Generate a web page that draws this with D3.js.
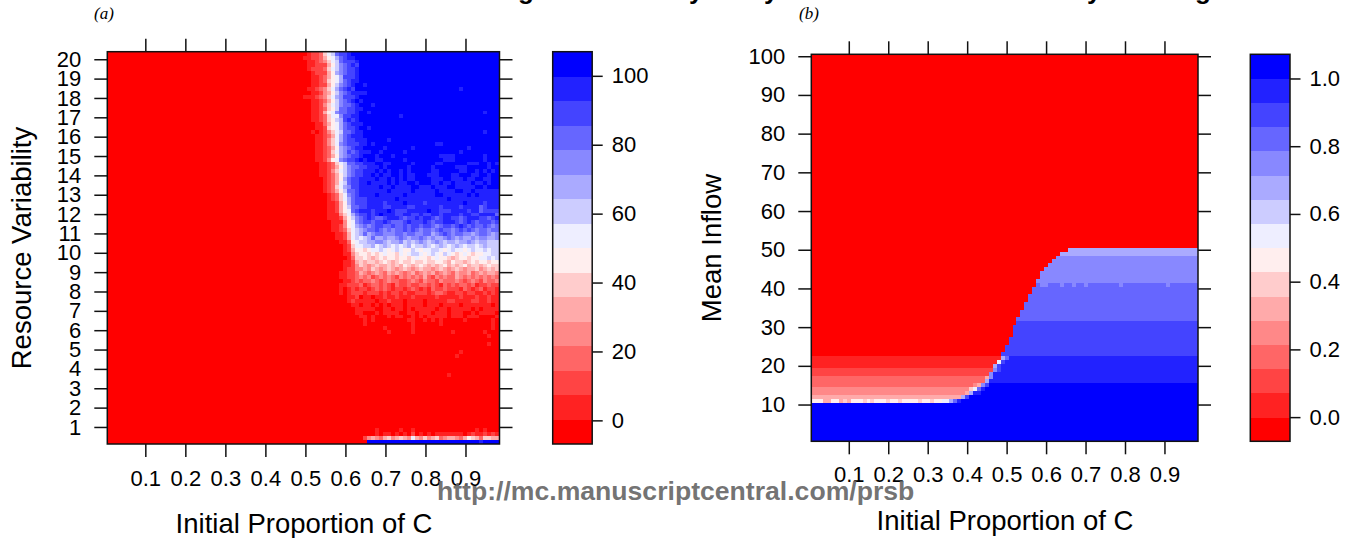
<!DOCTYPE html>
<html>
<head>
<meta charset="utf-8">
<script src="https://d3js.org/d3.v7.min.js"></script>
<style>
  html, body { margin: 0; background: #fff; }
  svg { display: block; }
  text { font-family: "Liberation Sans", Arial, sans-serif; fill: #000; }
</style>
</head>
<body>
<script>
// the 16 colour levels of both keys, red (0) to blue (f)
const palette = ['#ff0000', '#ff2222', '#ff4444', '#ff6666', '#ff8888', '#ffaaaa', '#ffcccc', '#ffeeee',
  '#eeeeff', '#ccccff', '#aaaaff', '#8888ff', '#6666ff', '#4444ff', '#2222ff', '#0000ff'];

const xTicks = [0.1, 0.2, 0.3, 0.4, 0.5, 0.6, 0.7, 0.8, 0.9];
const yTicksA = [1, 2, 3, 4, 5, 6, 7, 8, 9, 10, 11, 12, 13, 14, 15, 16, 17, 18, 19, 20];
const yTicksB = [10, 20, 30, 40, 50, 60, 70, 80, 90, 100];
const keyTicksA = [0, 20, 40, 60, 80, 100];
const keyTicksB = [0, 0.2, 0.4, 0.6, 0.8, 1];

// cell levels, one string per row, top row first
// "c*n" repeats a level, other tokens are literal, the last level runs on to the right edge
const rowsA = [
  '0*49 01223689cddef',
  '0*49 11223578acdeef',
  '0*49 011234689cdddef',
  '0*49 011222579bcdedf',
  '0*49 012223689bcddef',
  '0*49 00122257abcddef',
  '0*49 001123578adddef',
  '0*49 001123678acdeef',
  '0*49 001122579bcdef',
  '0*49 01123468acdedf',
  '0*49 001124579bcdeeeef',
  '0*49 11123468abdddef',
  '0*49 001123579bcdefef',
  '0*49 001124689bccdef',
  '0*49 001123679ccddeef',
  '0*49 00112578bccddef',
  '0*49 001123688bddeef',
  '0*49 001123679adedef',
  '0*49 000113578acdeeef',
  '0*49 000112678acddef',
  '0*49 001012468 9ccdeef',
  '0*50 00112358acdeeef',
  '0*50 00112468acddeeefffffe f',
  '0*50 00112468bcdddeefefffffffffffffffeef',
  '0*50 00112357abcdeefffffeffffffefffffffffffffef',
  '0*50 00112368abdcdeeeffefffffefffffffffffffef',
  '0*50 00112357abcddefffefffefffffffffffeeeefffffffef',
  '0*50 00112478bcddefeffeefffffefffffffffeeefffffffef',
  '0*50 0001123689ccddeeeffeefffffefffffeeffffffeeeffefe',
  '0*50 0001123579bccddeeefefffffefffffefffffeeefffffef',
  '0*50 0001124689bcddeeefefeffefefffffeefffffeeffefefef',
  '0*50 000112357 9bcddeefefeeffefeefffeeefffeefffeeffef',
  '0*50 000012357 acddeeeefeefefefeeffffeeeffeeefeeffeef',
  '0*50 000012358 9cddeefeeeefefeeffefffeefeefeeeefeefef',
  '0*50 000012368 abddeeeeefeefeeeeffeeefeeeffeeeeeffef',
  '0*50 000012357 9ccdeeeeeeefeeeeefeeeeefeeeeffeefeeee',
  '0*50 0000012368 bcdeeeefeeeeeefeeeeeeeffeeeeeefefeee',
  '0*50 0000012368 acdddeeeeeeefeeeeeeeeeeeefeeeeeeeeee',
  '0*50 0000011257 acdddeeeedeeeefeeeedeeeeeeeeefeeeedee',
  '0*50 0000011257 9ccddeeeeddeeeeddeeeeeedeeeedeeeecde',
  '0*50 000001125 78 cdeeedeeefedddeeeeefeedddeeeedeecd',
  '0*50 000001114 68 acddedefeeeddeeddeddeedeeeedeeddeeeecde',
  '0*50 000001112 57 9bcdedccdeeedcddedeedcdeeddcdeeeddcdeddc',
  '0*50 000000111 47 8bcddcddedcccdedddedcddeeedcdedcdddcdedc',
  '0*50 000000112 47 8abcbcddccdccdcddcddcbcddcdedcdccdcbcdcb',
  '0*50 000000112 36 89abccdcbcbccdcdcbccbcdccbcdcdcbccbcccbc',
  '0*50 0000000112 58 9acabccbbbccbccbbccabcdcbccbbabccbab',
  '0*50 0000000112 58 989acaabaabcbabbcbabaabcbabaababbaabab',
  '0*50 00000000113 78 99aabba9aab9a9aba9aba9aa9aaba9aa999',
  '0*50 000000000126 88 99a89a98989a899a989a989a989989a999',
  '0*50 000000000125 77 6788987898779878 8998789887898898 9999',
  '0*50 000000000114 67 7676787768789987 8987987678767788 99',
  '0*50 000000000013 66 7656767767767877 6787765677677889 89',
  '0*50 000000000112 56 5665676567667667 6677657665676776 7',
  '0*50 000000000112 46 5456556565765676 5656756567566567 66',
  '0*50 000000000122 44 5465456545654565 5456545654556456 56',
  '0*50 00000000112235 4345435454345345 4534543544534545 54',
  '0*50 00000000112234 3423434324343435 3243433543434343 43',
  '0*50 00000000011232 3343234332234324 3324333432343243 34',
  '0*50 00000000112223 1233232132232233 2321323233231223 22',
  '0*50 00000000101212 2123232122123212 1322322213212312 21',
  '0*50 00000000101222 1222121221211222 1233211221221121 21 0',
  '0*50 000000000011 2011011211211 1211111 2111112111211211 0',
  '0*50 000000000012 1111101121110111 1011111221111221 1211 0',
  '0*50 000000000001 1011010101110111 1011101111011111 1101 0',
  '0*50 00000000000011 1110011011010111 1101101111101011 1110',
  '0*50 00000000000011 0001011110011011 1011101110010111 1011 0',
  '0*50 000000000000011 0100010110010101 1111011101110000 10 0',
  '0', '0', '0', '0', '0', '0', '0', '0', '0', '0',
  '0', '0', '0', '0', '0', '0', '0', '0', '0', '0',
  '0', '0', '0', '0', '0', '0', '0', '0', '0',
  '0*64 0001011010102010101111111012112121',
  '0*64 2454356456548546456345543576536655',
  '0*65 f'
];
// single odd cells in the flat parts of panel (a): row, column, level
const specksA = [
  [8, 64, 14], [9, 88, 14], [13, 66, 14], [15, 65, 14], [15, 94, 14], [16, 73, 14], [18, 63, 14], [19, 65, 14], [20, 94, 14],
  [68, 64, 1], [68, 66, 1], [68, 75, 1], [68, 76, 1], [68, 79, 1], [68, 81, 1], [68, 83, 1], [68, 89, 1], [68, 96, 1],
  [69, 64, 1], [69, 76, 1], [69, 83, 1], [69, 96, 1], [70, 69, 1], [70, 76, 1], [70, 96, 1],
  [71, 70, 1], [71, 76, 1], [71, 86, 1], [71, 94, 1], [72, 95, 1], [74, 95, 1], [76, 88, 1], [77, 87, 1], [82, 85, 1],
  [96, 67, 1], [96, 73, 1], [96, 76, 1], [96, 92, 1], [96, 94, 1], [99, 93, 14]
];

const rowsB = [
  '0', '0', '0', '0', '0', '0', '0', '0', '0', '0',
  '0', '0', '0', '0', '0', '0', '0', '0', '0', '0',
  '0', '0', '0', '0', '0', '0', '0', '0', '0', '0',
  '0', '0', '0', '0', '0', '0', '0', '0', '0', '0',
  '0', '0', '0', '0', '0', '0', '0', '0', '0', '0',
  '0*65 a', '0*63 a', '0*62 b', '0*61 b', '0*60 b', '0*59 b', '0*58 b', '0*58 b', '0*57 b',
  '0*57 c bb ccc b cc b cc b c*8 b c*11 b c',
  '0*56 c', '0*56 c', '0*55 c', '0*55 c', '0*54 c', '0*54 c', '0*53 c', '0*53 c', '0*52 c',
  '0*52 d', '0*51 d', '0*51 d', '0*51 d', '0*50 d', '0*50 d', '0*49 d', '0*49 d', '0*48 d',
  '1*48 a c e', '1*47 8 d e', '1*46 a d e', '2*46 b d e', '2*45 b e', '3*44 5 b e', '3*44 a e',
  '3*41 4 5 b d f', '4*40 6 8 c e f', '4*39 5 a e e f', '5*38 a d f',
  '777 55 77 565 777 6 7 6 777 6 77 6 7777 6 77 6 77 88 a c e f',
  'f', 'f', 'f', 'f', 'f', 'f', 'f', 'f', 'f', 'f'
];

function decodeRow(row, n) {
  let cells = '';
  for (const token of row.split(' ')) {
    if (token.includes('*')) {
      const [level, count] = token.split('*');
      cells += level.repeat(+count);
    } else {
      cells += token;
    }
  }
  cells = cells.padEnd(n, cells[cells.length - 1]).slice(0, n);
  return Array.from(cells, c => parseInt(c, 16));
}

const width = 1345;
const height = 538;
const nCols = 98;

const svg = d3.create('svg')
  .attr('width', width)
  .attr('height', height);

// draws one heat panel with its four axes and its colour key
function drawPanel(p) {
  const levelStep = (p.keyDomain[1] - p.keyDomain[0]) / palette.length;
  const colorScale = d3.scaleQuantize(p.keyDomain, palette);
  const xScale = d3.scaleLinear([0.005, 0.985], p.xRange);
  const yScale = d3.scaleLinear(p.yDomain, p.yRange);
  const keyScale = d3.scaleLinear(p.keyDomain, p.yRange);
  const dy = (p.yDomain[1] - p.yDomain[0]) / p.rows.length;

  const cells = [];
  p.rows.forEach((row, r) => {
    decodeRow(row, nCols).forEach((level, c) => {
      cells.push({r, c, level});
    });
  });
  for (const [r, c, level] of p.specks) {
    cells[r * nCols + c].level = level;
  }

  const g = svg.append('g').attr('shape-rendering', 'crispEdges');

  g.selectAll('rect')
    .data(cells)
    .join('rect')
    .attr('x', d => xScale(0.005 + d.c * 0.01))
    .attr('width', xScale(0.015) - xScale(0.005) + 0.3)
    .attr('y', d => yScale(p.yDomain[1] - d.r * dy))
    .attr('height', yScale(p.yDomain[0]) - yScale(p.yDomain[0] + dy) + 0.3)
    .attr('fill', d => colorScale(p.keyDomain[0] + (d.level + 0.5) * levelStep));

  // colour key
  svg.append('g')
    .selectAll('rect')
    .data(d3.range(palette.length))
    .join('rect')
    .attr('shape-rendering', 'crispEdges')
    .attr('x', p.keyX[0])
    .attr('width', p.keyX[1] - p.keyX[0])
    .attr('y', d => keyScale(p.keyDomain[0] + (d + 1) * levelStep))
    .attr('height', keyScale(p.keyDomain[0]) - keyScale(p.keyDomain[0] + levelStep) + 0.4)
    .attr('fill', d => colorScale(p.keyDomain[0] + (d + 0.5) * levelStep));

  const frames = [[p.xRange, p.yRange], [p.keyX, p.yRange]];
  svg.append('g')
    .selectAll('rect')
    .data(frames)
    .join('rect')
    .attr('x', d => d[0][0])
    .attr('y', d => d[1][1])
    .attr('width', d => d[0][1] - d[0][0])
    .attr('height', d => d[1][0] - d[1][1])
    .attr('fill', 'none')
    .attr('stroke', '#111')
    .attr('stroke-width', 1.5);

  const styleAxis = s => {
    s.select('.domain').remove();
    s.selectAll('line').attr('stroke', '#111').attr('stroke-width', 1.5);
    s.selectAll('text').attr('font-size', 22).attr('font-family', '"Liberation Sans"').attr('fill', '#000');
  };

  svg.append('g')
    .attr('transform', `translate(0, ${p.yRange[0]})`)
    .call(d3.axisBottom(xScale).tickValues(xTicks).tickSize(13).tickPadding(p.xPad).tickFormat(d3.format('.1f')))
    .call(styleAxis);
  svg.append('g')
    .attr('transform', `translate(0, ${p.yRange[1]})`)
    .call(d3.axisTop(xScale).tickValues(xTicks).tickSize(13).tickFormat(''))
    .call(styleAxis);
  svg.append('g')
    .attr('transform', `translate(${p.xRange[0]}, 0)`)
    .call(d3.axisLeft(yScale).tickValues(p.yTicks).tickSize(13).tickPadding(13))
    .call(styleAxis);
  svg.append('g')
    .attr('transform', `translate(${p.xRange[1]}, 0)`)
    .call(d3.axisRight(yScale).tickValues(p.yTicks).tickSize(13).tickFormat(''))
    .call(styleAxis);
  svg.append('g')
    .attr('transform', `translate(${p.keyX[1]}, 0)`)
    .call(d3.axisRight(keyScale).tickValues(p.keyTicks).tickSize(10.5).tickPadding(9).tickFormat(p.keyFormat))
    .call(styleAxis);

  svg.append('text')
    .attr('x', p.xTitle[0])
    .attr('y', p.xTitle[1])
    .attr('text-anchor', 'middle')
    .attr('font-size', 27.5)
    .text('Initial Proportion of C');

  svg.append('text')
    .attr('transform', `translate(${p.yTitle[0]}, ${p.yTitle[1]}) rotate(-90)`)
    .attr('text-anchor', 'middle')
    .attr('font-size', 27.5)
    .text(p.yLabel);

  svg.append('text')
    .attr('x', p.tag[0])
    .attr('y', p.tag[1])
    .attr('font-style', 'italic')
    .attr('font-size', 17)
    .style('font-family', '"Liberation Serif"')
    .text(p.tagText);
}

drawPanel({
  rows: rowsA,
  specks: specksA,
  xRange: [107.3, 499.5],
  yRange: [444, 51.7],
  yDomain: [0.12, 20.39],
  yTicks: yTicksA,
  yLabel: 'Resource Variability',
  keyX: [552.7, 592.2],
  keyDomain: [-6.86, 107],
  keyTicks: keyTicksA,
  keyFormat: d3.format('d'),
  xPad: 13.5,
  xTitle: [304, 533],
  yTitle: [31, 248],
  tag: [94, 19],
  tagText: '(a)'
});

drawPanel({
  rows: rowsB,
  specks: [],
  xRange: [811.3, 1198],
  yRange: [441.3, 54.3],
  yDomain: [0.5, 100.5],
  yTicks: yTicksB,
  yLabel: 'Mean Inflow',
  keyX: [1250.3, 1290],
  keyDomain: [-0.0714, 1.0714],
  keyTicks: keyTicksB,
  keyFormat: d3.format('.1f'),
  xPad: 12.5,
  xTitle: [1005, 530],
  yTitle: [721, 248],
  tag: [799, 19],
  tagText: '(b)'
});

// descenders of the cropped page heading at the top edge
svg.append('text')
  .attr('x', [518, 689, 764, 1087, 1195].join(' '))
  .attr('y', -1)
  .attr('font-size', 26)
  .attr('font-weight', 'bold')
  .text('gyyyg');

// journal watermark, laid over the tick labels
svg.append('text')
  .attr('x', 437)
  .attr('y', 500)
  .attr('font-size', 26.6)
  .attr('font-weight', 'bold')
  .style('fill', '#666')
  .attr('fill-opacity', 0.92)
  .text('http://mc.manuscriptcentral.com/prsb');

document.body.append(svg.node());
</script>
</body>
</html>
